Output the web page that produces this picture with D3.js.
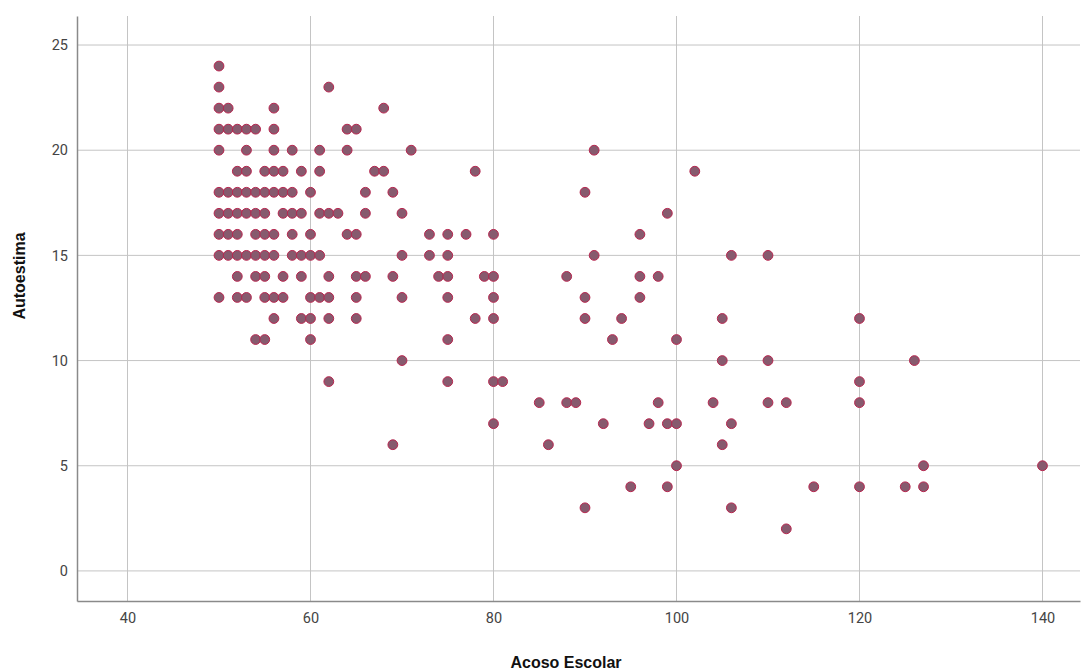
<html>
<head>
<meta charset="utf-8">
<script src="https://d3js.org/d3.v7.min.js"></script>
<style>
body { margin: 0; background: #fff; font-family: Roboto, 'Liberation Sans', sans-serif; }
</style>
</head>
<body>
<div id="plot"></div>
<script>
// Autoestima levels (y) and the Acoso Escolar scores (x) seen on each level
var autoestimaLevels = [24, 23, 22, 21, 20, 19, 18, 17, 16, 15, 14, 13, 12, 11, 10, 9, 8, 7, 6, 5, 4, 3, 2];
var acosoByLevel = [
  [50],
  [50, 62],
  [50, 51, 56, 68],
  [50, 51, 52, 53, 54, 56, 64, 65],
  [50, 53, 56, 58, 61, 64, 71, 91],
  [52, 53, 55, 56, 57, 59, 61, 67, 68, 78, 102],
  [50, 51, 52, 53, 54, 55, 56, 57, 58, 60, 66, 69, 90],
  [50, 51, 52, 53, 54, 55, 57, 58, 59, 61, 62, 63, 66, 70, 99],
  [50, 51, 52, 54, 55, 56, 58, 60, 64, 65, 73, 75, 77, 80, 96],
  [50, 51, 52, 53, 54, 55, 56, 58, 59, 60, 61, 70, 73, 75, 91, 106, 110],
  [52, 54, 55, 57, 59, 62, 65, 66, 69, 74, 75, 79, 80, 88, 96, 98],
  [50, 52, 53, 55, 56, 57, 60, 61, 62, 65, 70, 75, 80, 90, 96],
  [56, 59, 60, 62, 65, 78, 80, 90, 94, 105, 120],
  [54, 55, 60, 75, 93, 100],
  [70, 105, 110, 126],
  [62, 75, 80, 81, 120],
  [85, 88, 89, 98, 104, 110, 112, 120],
  [80, 92, 97, 99, 100, 106],
  [69, 86, 105],
  [100, 127, 140],
  [95, 99, 115, 120, 125, 127],
  [90, 106],
  [112]
];
var xTicks = [40, 60, 80, 100, 120, 140];
var yTicks = [0, 5, 10, 15, 20, 25];

var points = [];
autoestimaLevels.forEach(function(lvl, i) {
  acosoByLevel[i].forEach(function(a) { points.push({acoso: a, autoestima: lvl}); });
});

var W = 1081, H = 672;
var margin = {top: 16, right: 1, bottom: 71, left: 77};
var width = W - margin.left - margin.right,
    height = H - margin.top - margin.bottom;

var svg = d3.select("#plot").append("svg")
  .attr("width", W).attr("height", H);
var g = svg.append("g").attr("transform", "translate(" + margin.left + "," + margin.top + ")");

var x = d3.scaleLinear().domain([34.48, 144.1]).range([0, width]);
var y = d3.scaleLinear().domain([-1.43, 26.38]).range([height, 0]);

// grid
g.selectAll(".vgrid").data(xTicks).enter().append("line")
  .attr("x1", function(d) { return x(d); }).attr("x2", function(d) { return x(d); })
  .attr("y1", 0).attr("y2", height)
  .attr("stroke", "#c4c4c4").attr("stroke-width", 1);
g.selectAll(".hgrid").data(yTicks).enter().append("line")
  .attr("y1", function(d) { return y(d); }).attr("y2", function(d) { return y(d); })
  .attr("x1", 0).attr("x2", width)
  .attr("stroke", "#c4c4c4").attr("stroke-width", 1);

// axes
var xAxis = g.append("g")
  .attr("transform", "translate(0," + height + ")")
  .call(d3.axisBottom(x).tickValues(xTicks).tickSize(0).tickPadding(12));
var yAxis = g.append("g")
  .call(d3.axisLeft(y).tickValues(yTicks).tickSize(0).tickPadding(9));
[xAxis, yAxis].forEach(function(a) {
  a.select(".domain").attr("stroke", "#8a8a8a").attr("stroke-width", 1.5);
  a.selectAll("text").attr("font-family", "Roboto, sans-serif")
    .attr("font-size", 14.5).attr("fill", "#444");
});

// points
g.selectAll("circle").data(points).enter().append("circle")
  .attr("cx", function(d) { return x(d.acoso); })
  .attr("cy", function(d) { return y(d.autoestima); })
  .attr("r", 4.9)
  .attr("fill", "#875a6e")
  .attr("stroke", "#b8264f")
  .attr("stroke-width", 1);

// axis titles
svg.append("text")
  .attr("x", 566).attr("y", 668)
  .attr("text-anchor", "middle")
  .attr("font-family", "'Liberation Sans', Arial, sans-serif")
  .attr("font-weight", "bold").attr("font-size", 16).attr("fill", "#111")
  .text("Acoso Escolar");
svg.append("text")
  .attr("text-anchor", "middle")
  .attr("font-family", "'Liberation Sans', Arial, sans-serif")
  .attr("font-weight", "bold").attr("font-size", 16).attr("fill", "#111")
  .attr("transform", "translate(25,276)rotate(-90)")
  .text("Autoestima");
</script>
</body>
</html>
